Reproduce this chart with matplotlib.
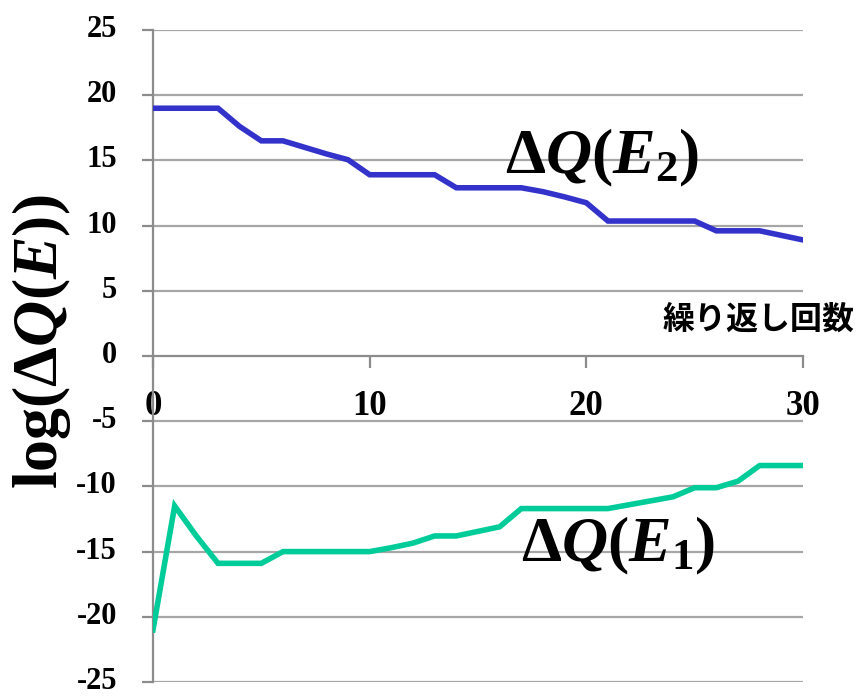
import matplotlib
matplotlib.use("Agg")
import matplotlib.pyplot as plt
import matplotlib.transforms as mtransforms
import numpy as np

# Iteration count and log-scale change of Q for the two energies
iterations = list(range(0, 31))
dq_e2 = [19, 19, 19, 19, 17.6, 16.5, 16.5, 16.0, 15.5, 15.05,
         13.9, 13.9, 13.9, 13.9, 12.9, 12.9, 12.9, 12.9, 12.6, 12.2,
         11.75, 10.35, 10.35, 10.35, 10.35, 10.35, 9.6, 9.6, 9.6, 9.25,
         8.9]
dq_e1 = [-21.0, -11.5, -13.8, -15.9, -15.9, -15.9, -15.0, -15.0, -15.0, -15.0,
         -15.0, -14.7, -14.35, -13.8, -13.8, -13.45, -13.1, -11.7, -11.7, -11.7,
         -11.7, -11.7, -11.4, -11.1, -10.8, -10.1, -10.1, -9.6, -8.4, -8.4,
         -8.4]
x_ticks = [0, 10, 20, 30]
y_ticks = [25, 20, 15, 10, 5, 0, -5, -10, -15, -20, -25]

plt.rcParams["mathtext.fontset"] = "custom"
plt.rcParams["mathtext.rm"] = "Liberation Serif:bold"
plt.rcParams["mathtext.it"] = "Liberation Serif:italic:bold"
plt.rcParams["mathtext.bf"] = "Liberation Serif:bold"

fig = plt.figure(figsize=(8.61, 6.96), dpi=100)
ax = fig.add_axes([153 / 861, 1 - 682 / 696, 650 / 861, 652 / 696])

axis_gray = "#8C8C8C"
grid_gray = "#A6A6A6"

ax.set_xlim(0, 30)
ax.set_ylim(-25, 25)

for yv in y_ticks:
    if yv != 0:
        ax.axhline(yv, color=grid_gray, lw=1.6, zorder=1)

ax.plot(iterations, dq_e2, color="#3333CC", lw=4.0, solid_joinstyle="miter", zorder=3)
ax.plot(iterations, dq_e1, color="#00CC99", lw=4.0, solid_joinstyle="miter", zorder=3)

for side in ("top", "right"):
    ax.spines[side].set_visible(False)
ax.spines["bottom"].set_position(("data", 0))
ax.spines["left"].set_position(("data", 0))
for side in ("bottom", "left"):
    ax.spines[side].set_color(axis_gray)
    ax.spines[side].set_linewidth(1.6)
    ax.spines[side].set_zorder(2)

tick_font = dict(family="Liberation Serif", weight="bold")
ax.set_xticks(x_ticks)
ax.set_xticklabels([str(v) for v in x_ticks], fontsize=25, **tick_font)
ax.set_yticks(y_ticks)
ax.set_yticklabels([str(v) for v in y_ticks], fontsize=22, **tick_font)
ax.tick_params(axis="x", direction="out", length=8.6, width=1.6, color=axis_gray, pad=16)
ax.tick_params(axis="y", direction="out", length=8.0, width=1.6, color=axis_gray, pad=18)

# lift the y tick labels slightly so they sit a little above their ticks
lift = mtransforms.ScaledTranslation(0, 4 / 100, fig.dpi_scale_trans)
for lbl in ax.get_yticklabels():
    lbl.set_transform(lbl.get_transform() + lift)

ax.text(16.25, 14.0, r"$\Delta Q(E_2)$", fontsize=46, ha="left", va="baseline", zorder=4)
ax.text(17.0, -15.75, r"$\Delta Q(E_1)$", fontsize=46, ha="left", va="baseline", zorder=4)

fig.text(42 / 861, 1 - 342 / 696, r"$\mathrm{log}(\Delta Q(E))$", fontsize=46,
         rotation=90, ha="center", va="center")

fig.text(855 / 861, 1 - 320 / 696, "繰り返し回数", fontsize=23,
         family=["Noto Sans CJK JP", "DejaVu Sans"], weight="bold",
         ha="right", va="center")

fig.savefig("out.png", dpi=100)
